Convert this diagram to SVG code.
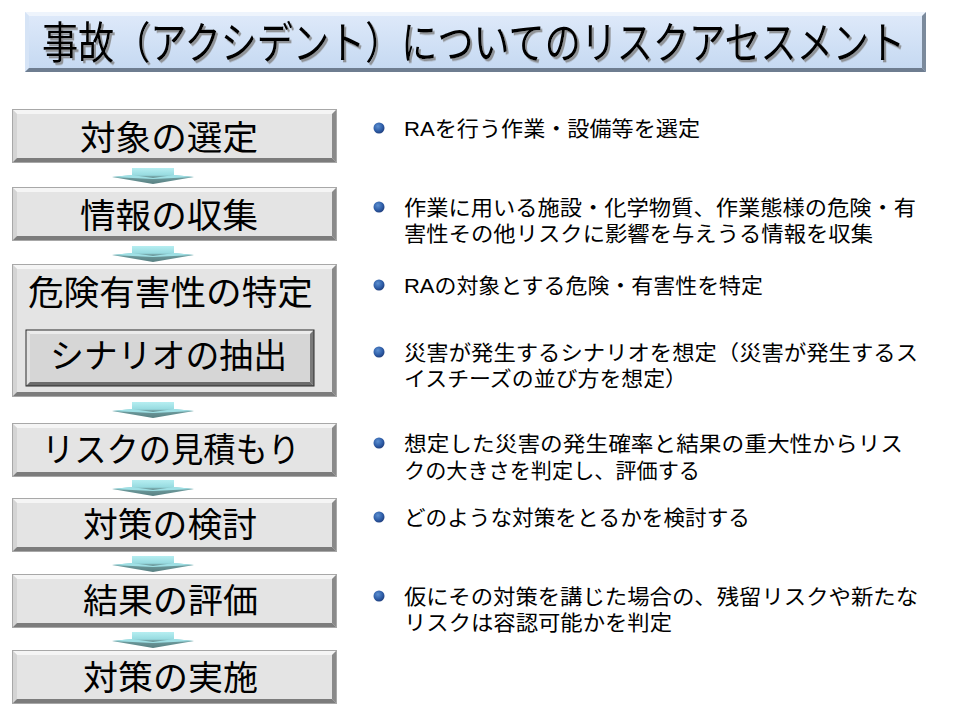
<svg xmlns="http://www.w3.org/2000/svg" xmlns:xlink="http://www.w3.org/1999/xlink" width="960" height="720" viewBox="0 0 960 720">
<style>
.lbl{font-family:"Noto Sans CJK JP","Noto Sans CJK SC",sans-serif;font-size:34px;fill:#000}
.desc{font-family:"Liberation Sans","Noto Sans CJK JP","Noto Sans CJK SC",sans-serif;font-size:21px;fill:#000}
.title{font-family:"Noto Sans CJK JP","Noto Sans CJK SC",sans-serif;font-size:38px;fill:#000}
</style>
<defs>
<linearGradient id="titleG" x1="0" y1="0" x2="0" y2="1">
<stop offset="0" stop-color="#dfeafa"/><stop offset="1" stop-color="#c4d8f1"/>
</linearGradient>
<linearGradient id="arrG" x1="0" y1="0" x2="0" y2="1">
<stop offset="0" stop-color="#b6eef1"/><stop offset="0.45" stop-color="#97dbe0"/>
<stop offset="0.55" stop-color="#6f9d9f"/><stop offset="1" stop-color="#587f81"/>
</linearGradient>
<radialGradient id="bulG" cx="0.4" cy="0.35" r="0.7">
<stop offset="0" stop-color="#5c8fd0"/><stop offset="0.6" stop-color="#2f5ea8"/><stop offset="1" stop-color="#1d3a78"/>
</radialGradient>
<filter id="tshadow" x="-5%" y="-20%" width="110%" height="140%">
<feDropShadow dx="2" dy="2" stdDeviation="0.6" flood-color="#808080" flood-opacity="0.8"/>
</filter>
<g id="box">
<rect x="0" y="0" width="325" height="54" fill="#e4e4e4"/>
<path d="M0,0H325L320,5H5Z" fill="#f5f5f5"/>
<path d="M0,0L5,5V49L0,54Z" fill="#d4d4d4"/>
<path d="M325,0V54L320,49V5Z" fill="#8a8a8a"/>
<path d="M0,54H325L320,49H5Z" fill="#7c7c7c"/>
<rect x="0.5" y="0.5" width="324" height="53" fill="none" stroke="#a8a8a8"/>
</g>
<g id="arrow">
<path d="M20,0H62V7L82,9L41,16L0,9L20,7Z" fill="url(#arrG)"/>
<path d="M0,9L20,7L41,10L62,7L82,9L41,11Z" fill="#9fe0e5"/>
</g>
<circle id="bul" r="5.5" fill="url(#bulG)"/>
</defs>

<g id="title">
<rect x="25" y="12" width="901" height="60" fill="url(#titleG)"/>
<path d="M25,12H926L922,16H29Z" fill="#eef4fc"/>
<path d="M25,12L29,16V68L25,72Z" fill="#d6e4f6"/>
<path d="M926,12V72L922,68V16Z" fill="#7b8a9c"/>
<path d="M25,72H926L922,68H29Z" fill="#6e7d90"/>
<text class="title" transform="translate(42,59) scale(1,1.16)" x="0" y="0" textLength="863" lengthAdjust="spacingAndGlyphs" filter="url(#tshadow)">事故（アクシデント）についてのリスクアセスメント</text>
</g>

<g id="connectors">
<use xlink:href="#arrow" href="#arrow" x="112" y="168"/>
<use xlink:href="#arrow" href="#arrow" x="112" y="246"/>
<use xlink:href="#arrow" href="#arrow" x="112" y="402"/>
<use xlink:href="#arrow" href="#arrow" x="112" y="480"/>
<use xlink:href="#arrow" href="#arrow" x="112" y="556"/>
<use xlink:href="#arrow" href="#arrow" x="112" y="632"/>
</g>

<g id="step1">
<use xlink:href="#box" href="#box" x="12" y="109"/>
<text class="lbl" x="80" y="150" textLength="178" lengthAdjust="spacingAndGlyphs">対象の選定</text>
</g>
<g id="step2">
<use xlink:href="#box" href="#box" x="12" y="187"/>
<text class="lbl" x="80" y="228" textLength="178" lengthAdjust="spacingAndGlyphs">情報の収集</text>
</g>
<g id="step3">
<rect x="12" y="264" width="325" height="133" fill="#e4e4e4"/>
<path d="M12,264H337L332,269H17Z" fill="#f5f5f5"/>
<path d="M12,264L17,269V392L12,397Z" fill="#d4d4d4"/>
<path d="M337,264V397L332,392V269Z" fill="#8a8a8a"/>
<path d="M12,397H337L332,392H17Z" fill="#7c7c7c"/>
<rect x="12.5" y="264.5" width="324" height="132" fill="none" stroke="#a8a8a8"/>
<text class="lbl" x="28" y="305" textLength="285" lengthAdjust="spacingAndGlyphs">危険有害性の特定</text>
</g>
<g id="step3b">
<rect x="26" y="330" width="288" height="56" fill="#d6d6d6"/>
<path d="M26,330H314L310,334H30Z" fill="#ececec"/>
<path d="M26,330L30,334V382L26,386Z" fill="#e2e2e2"/>
<path d="M314,330V386L310,382V334Z" fill="#7a7a7a"/>
<path d="M26,386H314L310,382H30Z" fill="#6c6c6c"/>
<rect x="26" y="330" width="288" height="56" fill="none" stroke="#2a2a2a" stroke-width="1"/>
<text class="lbl" x="50" y="368" textLength="237" lengthAdjust="spacingAndGlyphs">シナリオの抽出</text>
</g>
<g id="step4">
<use xlink:href="#box" href="#box" x="12" y="423"/>
<text class="lbl" x="42" y="462" textLength="258" lengthAdjust="spacingAndGlyphs">リスクの見積もり</text>
</g>
<g id="step5">
<use xlink:href="#box" href="#box" x="12" y="498"/>
<text class="lbl" x="83" y="537" textLength="174" lengthAdjust="spacingAndGlyphs">対策の検討</text>
</g>
<g id="step6">
<use xlink:href="#box" href="#box" x="12" y="574"/>
<text class="lbl" x="83" y="613" textLength="175" lengthAdjust="spacingAndGlyphs">結果の評価</text>
</g>
<g id="step7">
<use xlink:href="#box" href="#box" x="12" y="650"/>
<text class="lbl" x="83" y="690" textLength="175" lengthAdjust="spacingAndGlyphs">対策の実施</text>
</g>

<g id="descriptions">
<use xlink:href="#bul" href="#bul" x="379" y="128"/>
<text class="desc" x="404" y="136" textLength="296" lengthAdjust="spacingAndGlyphs">RAを行う作業・設備等を選定</text>
<use xlink:href="#bul" href="#bul" x="379" y="207"/>
<text class="desc" x="404" y="215" textLength="512" lengthAdjust="spacingAndGlyphs">作業に用いる施設・化学物質、作業態様の危険・有</text>
<text class="desc" x="404" y="241" textLength="469" lengthAdjust="spacingAndGlyphs">害性その他リスクに影響を与えうる情報を収集</text>
<use xlink:href="#bul" href="#bul" x="379" y="285"/>
<text class="desc" x="404" y="293" textLength="359" lengthAdjust="spacingAndGlyphs">RAの対象とする危険・有害性を特定</text>
<use xlink:href="#bul" href="#bul" x="379" y="352"/>
<text class="desc" x="404" y="360" textLength="514" lengthAdjust="spacingAndGlyphs">災害が発生するシナリオを想定（災害が発生するス</text>
<text class="desc" x="404" y="386" textLength="283" lengthAdjust="spacingAndGlyphs">イスチーズの並び方を想定）</text>
<use xlink:href="#bul" href="#bul" x="379" y="443"/>
<text class="desc" x="404" y="451" textLength="499" lengthAdjust="spacingAndGlyphs">想定した災害の発生確率と結果の重大性からリス</text>
<text class="desc" x="404" y="478" textLength="296" lengthAdjust="spacingAndGlyphs">クの大きさを判定し、評価する</text>
<use xlink:href="#bul" href="#bul" x="379" y="517"/>
<text class="desc" x="404" y="525" textLength="346" lengthAdjust="spacingAndGlyphs">どのような対策をとるかを検討する</text>
<use xlink:href="#bul" href="#bul" x="379" y="596"/>
<text class="desc" x="404" y="604" textLength="514" lengthAdjust="spacingAndGlyphs">仮にその対策を講じた場合の、残留リスクや新たな</text>
<text class="desc" x="404" y="630" textLength="268" lengthAdjust="spacingAndGlyphs">リスクは容認可能かを判定</text>
</g>
</svg>
